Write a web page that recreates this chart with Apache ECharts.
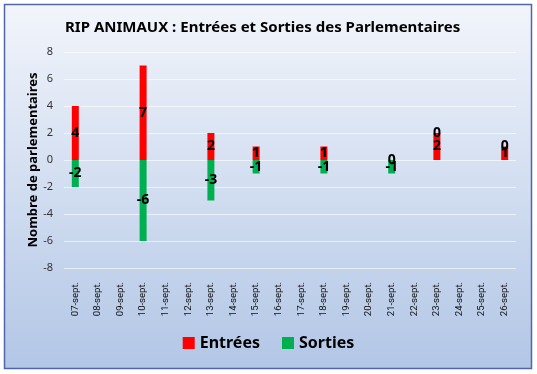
<!DOCTYPE html>
<html><head><meta charset="utf-8">
<script src="https://cdn.jsdelivr.net/npm/echarts@6/dist/echarts.min.js"></script>
<style>html,body{margin:0;padding:0;background:#fff;}#c{width:537px;height:374px;}</style>
</head><body><div id="c"></div>
<script>
const categories = ['07-sept.','08-sept.','09-sept.','10-sept.','11-sept.','12-sept.','13-sept.','14-sept.','15-sept.','16-sept.','17-sept.','18-sept.','19-sept.','20-sept.','21-sept.','22-sept.','23-sept.','24-sept.','25-sept.','26-sept.'];
const entrees = [4,null,null,7,null,null,2,null,1,null,null,1,null,null,0,null,2,null,null,1];
const sorties = [-2,null,null,-6,null,null,-3,null,-1,null,null,-1,null,null,-1,null,0,null,null,0];
const yTicks = {min:-8,max:8,interval:2};
const titleText = 'RIP ANIMAUX : Entrées et Sorties des Parlementaires';
const yName = 'Nombre de parlementaires';

const FONT = '"Noto Sans", "Open Sans", sans-serif';
const chart = echarts.init(document.getElementById('c'), null, {renderer:'canvas'});
const lbl = {show:true, position:'inside', color:'#000', fontWeight:'bold', fontSize:14, fontFamily:FONT};
chart.setOption({
  animation:false,
  graphic:[
    {type:'rect', z:-10, silent:true, shape:{x:4.5,y:4.5,width:527,height:364},
      style:{fill:new echarts.graphic.LinearGradient(0,0,0,1,[{offset:0,color:'#f2f5fb'},{offset:1,color:'#b2c6e6'}]), stroke:'#5065aa', lineWidth:1.5}},
    {type:'text', x:33, y:160, rotation:Math.PI/2, silent:true,
      style:{text:yName, fontFamily:FONT, fontSize:13, fontWeight:'bold', fill:'#000', align:'center', verticalAlign:'middle'}}
  ],
  title:{text:titleText, left:60, top:15, textStyle:{fontFamily:FONT, fontSize:15, fontWeight:'bold', color:'#000'}},
  legend:{bottom:18, left:'center', icon:'rect', itemWidth:12, itemHeight:12, itemGap:22,
    textStyle:{fontFamily:FONT, fontSize:16, fontWeight:'bold', color:'#000'}, data:['Entrées','Sorties']},
  grid:{left:64, right:21, top:52, bottom:106},
  xAxis:{type:'category', data:categories, axisLine:{show:false,onZero:false}, axisTick:{show:false},
    axisLabel:{rotate:90, margin:14, fontSize:9.5, fontFamily:'Roboto, "Noto Sans", sans-serif', color:'#111', interval:0}},
  yAxis:{type:'value', min:yTicks.min, max:yTicks.max, interval:yTicks.interval,
    axisLine:{show:false}, axisTick:{show:false},
    axisLabel:{fontSize:11, fontFamily:FONT, color:'#333', margin:11},
    splitLine:{lineStyle:{color:'rgba(255,255,255,0.6)', width:1}}},
  series:[
    {name:'Entrées', type:'bar', stack:'s', data:entrees, barWidth:7, itemStyle:{color:'#ff0000'}, label:lbl},
    {name:'Sorties', type:'bar', stack:'s', data:sorties, barWidth:7, itemStyle:{color:'#00b050'}, label:lbl}
  ]
});
</script></body></html>
